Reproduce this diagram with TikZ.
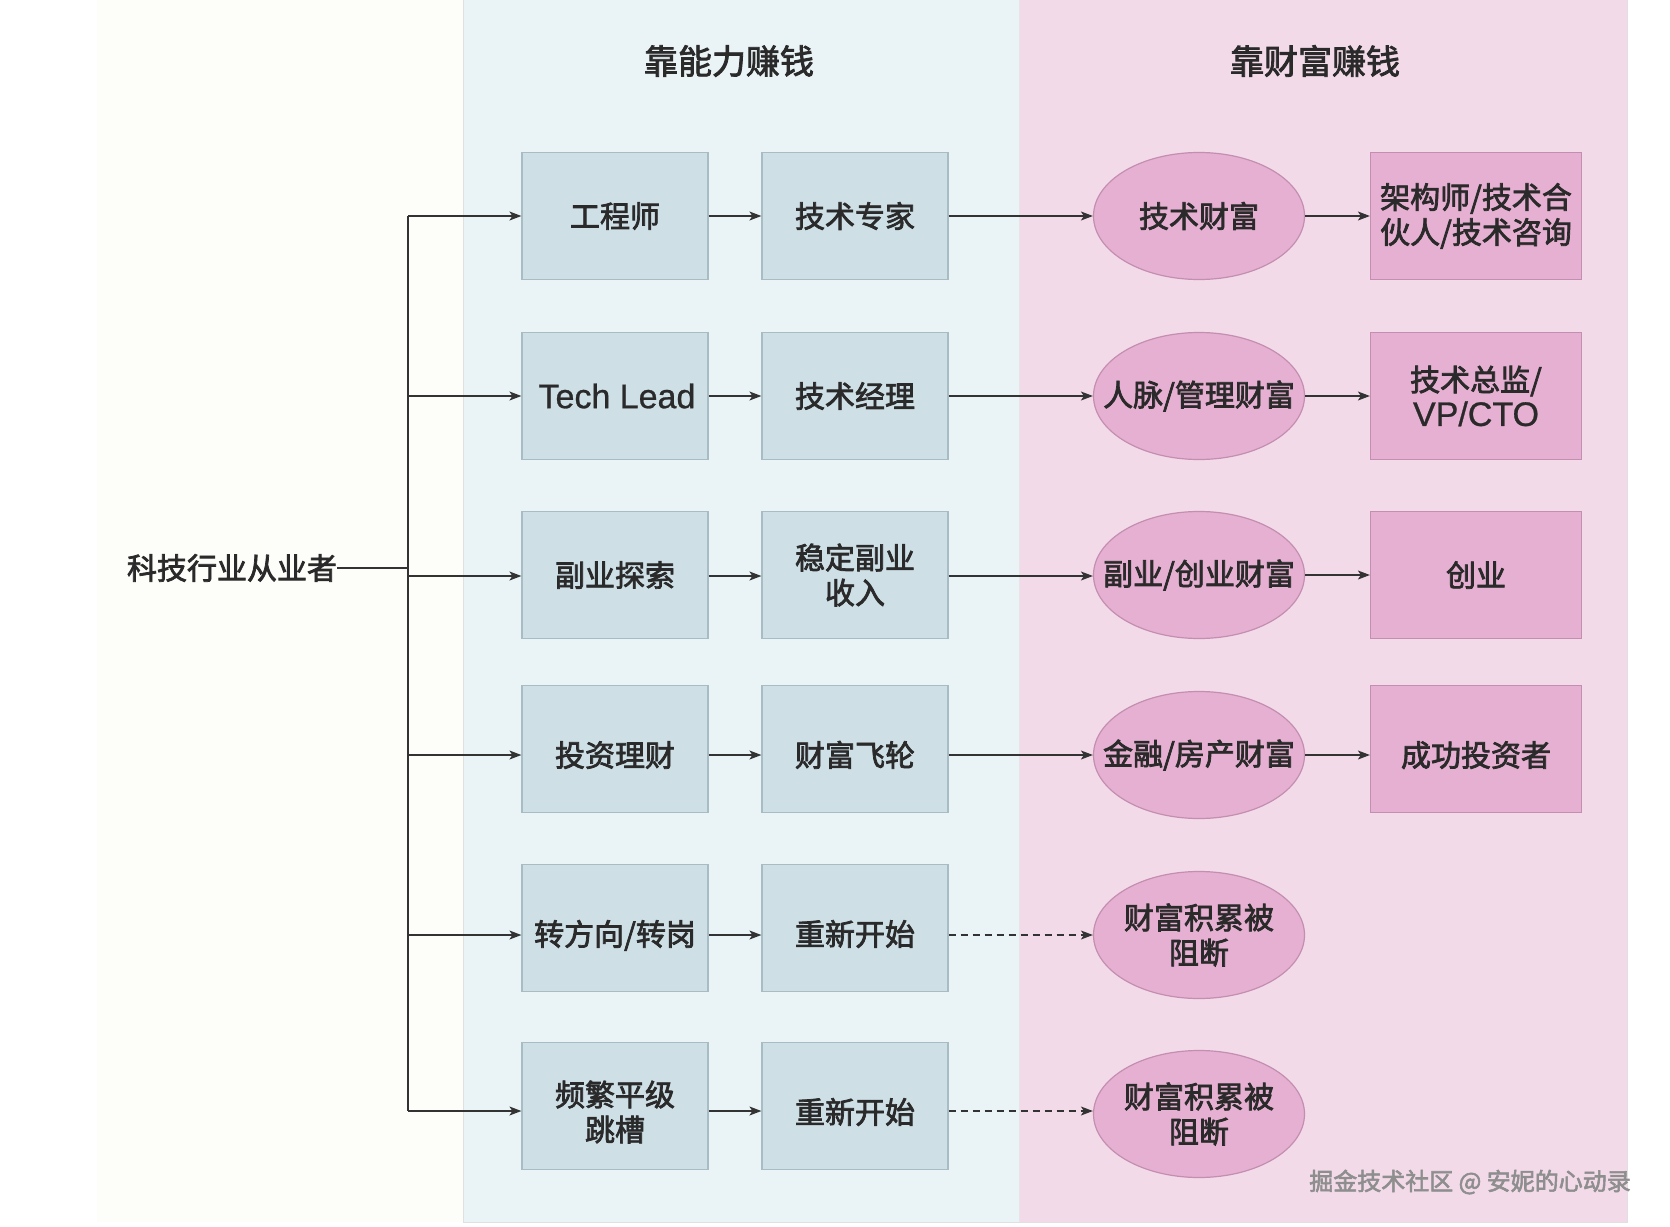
\documentclass[tikz,border=0pt]{standalone}
\usepackage{fontspec}
\setmainfont{Noto Sans CJK SC}[FakeBold=2.4]
\newfontfamily\latinfont{Liberation Sans}[FakeBold=0.8]
\usetikzlibrary{arrows.meta,shapes.geometric}
\definecolor{creambg}{HTML}{FDFDF9}
\definecolor{bluepanel}{HTML}{EAF3F6}
\definecolor{pinkpanel}{HTML}{F3DAE8}
\definecolor{bluebox}{HTML}{CEDFE6}
\definecolor{blueline}{HTML}{A8BCC3}
\definecolor{pinkbox}{HTML}{E5B0D1}
\definecolor{pinkline}{HTML}{C48EB0}
\definecolor{txt}{HTML}{2A2A2A}
\definecolor{wire}{HTML}{333333}
\definecolor{wm}{HTML}{8E8E8E}
\begin{document}
\begin{tikzpicture}[x=1pt,y=-1pt,
  lbl/.style={font=\fontsize{30pt}{35pt}\selectfont, text=txt, align=center, inner sep=0pt},
  bbox/.style={lbl, rectangle, minimum width=186pt, minimum height=127pt, fill=bluebox, draw=blueline, line width=1.2pt},
  pbox/.style={lbl, rectangle, minimum width=211pt, minimum height=127pt, fill=pinkbox, draw=pinkline, line width=1.2pt},
  pell/.style={lbl, ellipse, inner xsep=-36pt, inner ysep=0pt, minimum width=211pt, minimum height=127pt, fill=pinkbox, draw=pinkline, line width=1.2pt},
  title/.style={font=\fontsize{34pt}{40pt}\selectfont, text=txt, inner sep=0pt},
  arr/.style={draw=wire, line width=1.4pt, -{Stealth[length=12pt,width=9pt,inset=3pt]}},
  wireline/.style={draw=wire, line width=1.4pt},
  dasharr/.style={arr, dash pattern=on 7pt off 5pt},
  lat/.style={font=\fontsize{34pt}{38pt}\selectfont\latinfont},
  low/.style={text height=40pt, text depth=5.2pt},
  lowtwo/.style={text height=75pt, text depth=5.2pt}
]
\useasboundingbox (0,0) rectangle (1670,1226);
\fill[white] (0,0) rectangle (1670,1226);
\fill[creambg] (97,0) rectangle (463,1222);
\fill[bluepanel] (463,0) rectangle (1019,1222);
\fill[pinkpanel] (1019,0) rectangle (1627,1222);
\draw[draw=black!12, line width=1pt] (463,0) -- (463,1222) -- (1627,1222) -- (1627,0);
\draw[draw=black!10, line width=1pt] (1019,0) -- (1019,1222);

\node[title] (t1) at (729,61) {靠能力赚钱};
\node[title] (t2) at (1315,61) {靠财富赚钱};

\node[lbl] (root) at (232,568) {科技行业从业者};

% row 1
\node[bbox] (a1) at (615,216) {工程师};
\node[bbox] (b1) at (855,216) {技术专家};
\node[pell] (c1) at (1199,216) {技术财富};
\node[pbox] (d1) at (1476,216) {架构师/技术合\\伙人/技术咨询};
% row 2
\node[bbox, lat] (a2) at (615,396) {\hspace*{4pt}Tech Lead};
\node[bbox] (b2) at (855,396) {技术经理};
\node[pell] (c2) at (1199,396) {人脉/管理财富};
\node[pbox] (d2) at (1476,396) {技术总监/\\{\fontsize{34pt}{38pt}\selectfont\latinfont VP/CTO}};
% row 3
\node[bbox] (a3) at (615,575) {副业探索};
\node[bbox] (b3) at (855,575) {稳定副业\\收入};
\node[pell] (c3) at (1199,575) {副业/创业财富};
\node[pbox] (d3) at (1476,575) {创业};
% row 4
\node[bbox, low] (a4) at (615,749) {投资理财};
\node[bbox, low] (b4) at (855,749) {财富飞轮};
\node[pell] (c4) at (1199,755) {金融/房产财富};
\node[pbox, low] (d4) at (1476,749) {成功投资者};
% row 5
\node[bbox, low] (a5) at (615,928) {转方向/转岗};
\node[bbox, low] (b5) at (855,928) {重新开始};
\node[pell] (c5) at (1199,935) {财富积累被\\阻断};
% row 6
\node[bbox, lowtwo] (a6) at (615,1106) {频繁平级\\跳槽};
\node[bbox, low] (b6) at (855,1106) {重新开始};
\node[pell] (c6) at (1199,1114) {财富积累被\\阻断};

% trunk
\coordinate (jr) at (408,568);
\coordinate (j1) at (408,216);
\coordinate (j2) at (408,396);
\coordinate (j3) at (408,576);
\coordinate (j4) at (408,755);
\coordinate (j5) at (408,935);
\coordinate (j6) at (408,1111);
\draw[wireline] (root.east) -- (jr);
\draw[wireline] (j1) -- (j6);
\foreach \i in {1,...,6} {
  \draw[arr] (j\i) -- (a\i.west |- j\i);
  \draw[arr] (a\i.east |- j\i) -- (b\i.west |- j\i);
}
\foreach \i in {1,...,4} {
  \draw[arr] (b\i.east |- j\i) -- (c\i.west |- j\i);
  \draw[arr] (c\i.east) -- (d\i.west |- c\i.east);
}
\draw[dasharr] (b5.east |- j5) -- (c5.west |- j5);
\draw[dasharr] (b6.east |- j6) -- (c6.west |- j6);

\node[font=\fontsize{24pt}{28pt}\selectfont, text=wm, inner sep=0pt] (wmark) at (1470,1182) {掘金技术社区 @ 安妮的心动录};
\end{tikzpicture}
\end{document}
